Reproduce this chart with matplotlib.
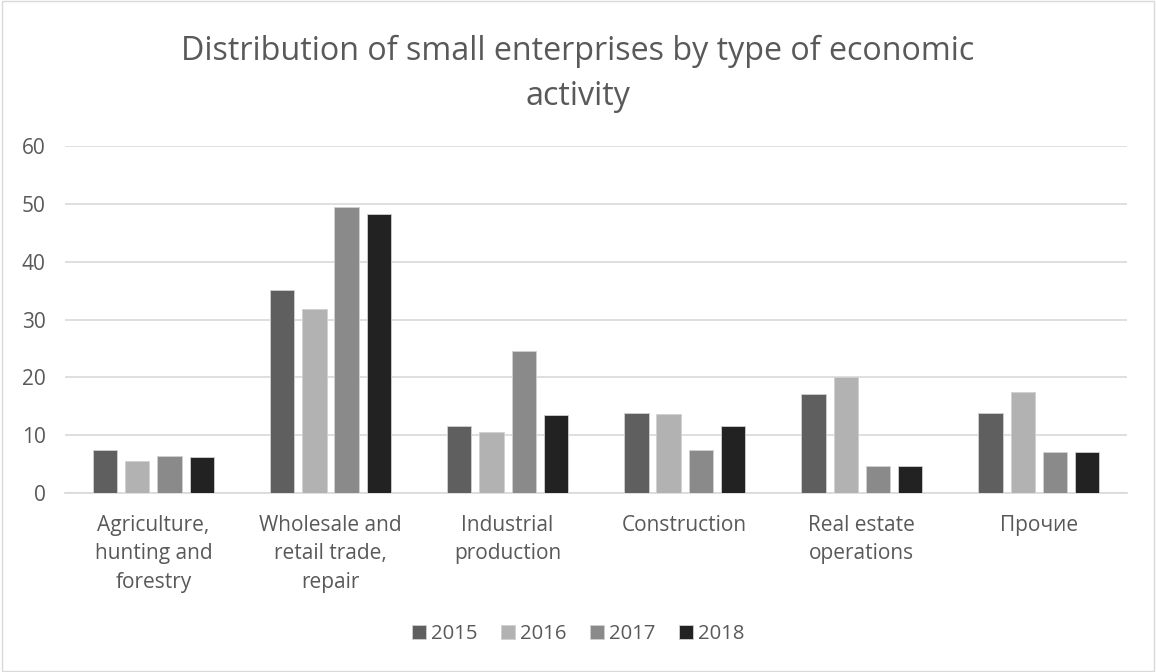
import matplotlib
matplotlib.use("Agg")
import matplotlib.pyplot as plt
from matplotlib.patches import Rectangle
import numpy as np

categories = [
    "Agriculture,\nhunting and\nforestry",
    "Wholesale and\nretail trade,\nrepair",
    "Industrial\nproduction",
    "Construction",
    "Real estate\noperations",
    "Прочие",
]
years = ["2015", "2016", "2017", "2018"]
values_2015 = [7.5, 35.1, 11.5, 13.9, 17.2, 13.9]
values_2016 = [5.5, 31.8, 10.6, 13.7, 20.1, 17.5]
values_2017 = [6.4, 49.4, 24.6, 7.5, 4.6, 7.1]
values_2018 = [6.2, 48.3, 13.5, 11.5, 4.6, 7.1]
series = [values_2015, values_2016, values_2017, values_2018]
colors = ["#5f5f5f", "#b2b2b2", "#8a8a8a", "#222222"]

plt.rcParams["font.family"] = ["Open Sans", "DejaVu Sans"]
text_color = "#595959"

fig = plt.figure(figsize=(11.56, 6.72), dpi=100)
ax = fig.add_axes([0.0562, 0.2664, 0.9188, 0.5163])

x = np.arange(len(categories))
step = 0.181
width = 0.136
for i, (vals, col) in enumerate(zip(series, colors)):
    ax.bar(x + (i - 1.5) * step, vals, width=width, color=col,
           edgecolor="#d0d0d0", linewidth=0.6, label=years[i], zorder=3)

ax.set_xlim(-0.5, len(categories) - 0.5)
ax.set_ylim(0, 60)
ax.set_yticks(range(0, 61, 10))
ax.yaxis.grid(True, color="#d9d9d9", linewidth=1.2, zorder=0)
ax.set_axisbelow(True)
for s in ["top", "right", "left"]:
    ax.spines[s].set_visible(False)
ax.spines["bottom"].set_color("#d9d9d9")
ax.spines["bottom"].set_linewidth(1.2)
ax.tick_params(axis="both", length=0, colors=text_color, labelsize=15)
ax.tick_params(axis="y", pad=14)
ax.set_xticks(x)
ax.set_xticklabels(categories, linespacing=1.45, va="top")
ax.tick_params(axis="x", pad=16)

fig.text(0.5, 0.89, "Distribution of small enterprises by type of economic\nactivity",
         ha="center", va="center", fontsize=23.2, color=text_color, linespacing=1.5)

leg = ax.legend(loc="center", bbox_to_anchor=(0.5, 0.056), bbox_transform=fig.transFigure,
                ncol=4, frameon=False, fontsize=14.6, handlelength=0.7, handleheight=0.7,
                handletextpad=0.25, columnspacing=1.15)
for t in leg.get_texts():
    t.set_color(text_color)

fig.patches.append(Rectangle((0.0015, 0.002), 0.997, 0.996, transform=fig.transFigure,
                             fill=False, edgecolor="#d9d9d9", linewidth=1.0))

fig.savefig("out.png", dpi=100)
